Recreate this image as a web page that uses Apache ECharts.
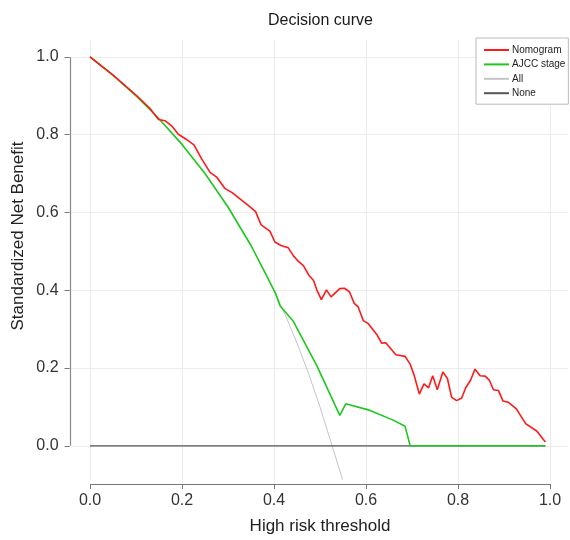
<!DOCTYPE html>
<html>
<head>
<meta charset="utf-8">
<script src="https://cdn.jsdelivr.net/npm/echarts@6/dist/echarts.min.js"></script>
<style>
  html, body { margin: 0; padding: 0; background: #fff; }
  #chart { width: 570px; height: 540px; }
</style>
</head>
<body>
<div id="chart"></div>
<script>
// tick positions on both axes
const tickValues = [0, 0.2, 0.4, 0.6, 0.8, 1.0];

// Nomogram (red)
const nomogramX = [0, 0.05, 0.10, 0.13, 0.149, 0.163, 0.178, 0.192, 0.208, 0.226, 0.243, 0.261, 0.276,
  0.293, 0.309, 0.326, 0.344, 0.36, 0.372, 0.391, 0.402, 0.415, 0.431, 0.442, 0.453, 0.464, 0.475,
  0.486, 0.493, 0.503, 0.514, 0.524, 0.543, 0.553, 0.564, 0.574, 0.583, 0.594, 0.605, 0.623, 0.634,
  0.643, 0.658, 0.665, 0.685, 0.696, 0.704, 0.716, 0.726, 0.736, 0.745, 0.755, 0.767, 0.777, 0.786,
  0.797, 0.808, 0.817, 0.827, 0.837, 0.848, 0.859, 0.868, 0.877, 0.888, 0.898, 0.909, 0.927, 0.947,
  0.971, 0.99];
const nomogramY = [1.0, 0.953, 0.902, 0.868, 0.839, 0.836, 0.822, 0.801, 0.789, 0.774, 0.737, 0.703, 0.69,
  0.662, 0.651, 0.635, 0.618, 0.602, 0.568, 0.552, 0.524, 0.515, 0.509, 0.489, 0.474, 0.463, 0.44,
  0.425, 0.401, 0.376, 0.401, 0.383, 0.404, 0.405, 0.396, 0.367, 0.357, 0.322, 0.314, 0.287, 0.264,
  0.265, 0.244, 0.234, 0.23, 0.21, 0.184, 0.133, 0.159, 0.149, 0.18, 0.144, 0.19, 0.173, 0.125,
  0.116, 0.123, 0.15, 0.168, 0.197, 0.18, 0.179, 0.169, 0.144, 0.142, 0.115, 0.112, 0.095, 0.057,
  0.038, 0.01];

// AJCC stage (green)
const ajccX = [0, 0.05, 0.10, 0.15, 0.20, 0.25, 0.30, 0.35, 0.385, 0.404, 0.413, 0.442, 0.493, 0.543,
  0.556, 0.609, 0.659, 0.685, 0.696, 0.99];
const ajccY = [1.0, 0.953, 0.90, 0.841, 0.775, 0.70, 0.614, 0.515, 0.435, 0.39, 0.36, 0.32, 0.206, 0.078,
  0.108, 0.091, 0.066, 0.05, 0.0, 0.0];

// All (treat all, grey)
const allX = [0, 0.05, 0.10, 0.15, 0.20, 0.25, 0.30, 0.35, 0.40, 0.425, 0.45, 0.475, 0.50, 0.525, 0.549];
const allY = [1.0, 0.953, 0.90, 0.841, 0.775, 0.70, 0.614, 0.515, 0.40, 0.335, 0.264, 0.186, 0.10, 0.005, -0.087];

// None (treat none)
const noneX = [0, 0.99];
const noneY = [0, 0];

const zip = (xs, ys) => xs.map((x, i) => [x, ys[i]]);
const font = '"Liberation Sans", Arial, Helvetica, sans-serif';
const xMin = -0.04, xMax = 1.04, yMin = -0.088, yMax = 1.045;

const chart = echarts.init(document.getElementById('chart'));

chart.setOption({
  animation: false,
  textStyle: { fontFamily: font },
  title: {
    text: 'Decision curve',
    left: 263,
    top: 8,
    textStyle: { fontSize: 16, fontWeight: 'normal', color: '#1a1a1a', fontFamily: font },
  },
  legend: {
    data: ['Nomogram', 'AJCC stage', 'All', 'None'],
    orient: 'vertical',
    left: 476,
    top: 38,
    padding: [6, 3, 5, 8],
    itemGap: 2.4,
    itemWidth: 25,
    itemHeight: 2,
    icon: 'rect',
    borderColor: '#bbb',
    borderWidth: 1,
    borderRadius: 0,
    backgroundColor: '#fff',
    textStyle: { fontSize: 10, lineHeight: 12, color: '#222', fontFamily: font, padding: [0, 0, 0, -2] },
  },
  grid: { left: 71.6, right: 1.6, top: 39.4, bottom: 56.5 },
  xAxis: {
    type: 'value',
    min: xMin,
    max: xMax,
    offset: 4,
    name: 'High risk threshold',
    nameLocation: 'middle',
    nameGap: 34,
    nameTextStyle: { fontSize: 17, color: '#222', fontFamily: font },
    axisLine: { show: false, onZero: false },
    axisTick: { show: true, customValues: tickValues, length: 5, lineStyle: { color: '#777' } },
    axisLabel: {
      customValues: tickValues,
      margin: 9,
      fontSize: 16,
      color: '#333',
      fontFamily: font,
      formatter: (v) => v.toFixed(1),
    },
    splitLine: { show: false },
  },
  yAxis: {
    type: 'value',
    min: yMin,
    max: yMax,
    offset: 2,
    axisLine: { show: false, onZero: false },
    axisTick: { show: true, customValues: tickValues, length: 5, lineStyle: { color: '#777' } },
    axisLabel: {
      customValues: tickValues,
      margin: 11,
      fontSize: 16,
      color: '#333',
      fontFamily: font,
      formatter: (v) => v.toFixed(1),
    },
    splitLine: { show: false },
  },
  series: [
    {
      // background grid lines at the tick values
      type: 'line',
      data: [],
      silent: true,
      z: 0,
      markLine: {
        z: 0,
        silent: true,
        symbol: 'none',
        label: { show: false },
        lineStyle: { color: '#ececec', width: 1, type: 'solid' },
        emphasis: { disabled: true },
        data: tickValues.map(v => ({ xAxis: v })).concat(tickValues.map(v => ({ yAxis: v }))),
      },
    },
    {
      name: 'All',
      type: 'line',
      data: zip(allX, allY),
      showSymbol: false,
      z: 2,
      lineStyle: { color: '#c4c4c4', width: 1 },
      itemStyle: { color: '#c4c4c4' },
    },
    {
      name: 'None',
      type: 'line',
      data: zip(noneX, noneY),
      showSymbol: false,
      z: 2,
      lineStyle: { color: '#555', width: 1.2 },
      itemStyle: { color: '#555' },
    },
    {
      name: 'AJCC stage',
      type: 'line',
      data: zip(ajccX, ajccY),
      showSymbol: false,
      z: 3,
      lineStyle: { color: '#1ec81e', width: 1.6 },
      itemStyle: { color: '#1ec81e' },
    },
    {
      name: 'Nomogram',
      type: 'line',
      data: zip(nomogramX, nomogramY),
      showSymbol: false,
      z: 4,
      lineStyle: { color: '#ff1a1a', width: 1.6 },
      itemStyle: { color: '#ff1a1a' },
    },
  ],
});

// capped axis lines, spanning only the 0..1 tick range
const p0 = chart.convertToPixel({ gridIndex: 0 }, [0, 0]);
const p1 = chart.convertToPixel({ gridIndex: 0 }, [1, 1]);
const corner = chart.convertToPixel({ gridIndex: 0 }, [xMin, yMin]);
const axisX = Math.round(corner[0] - 2) + 0.5;
const axisY = Math.round(corner[1] + 4) + 0.5;

chart.setOption({
  graphic: [
    {
      type: 'line',
      shape: { x1: axisX, y1: p1[1], x2: axisX, y2: p0[1] },
      style: { stroke: '#888', lineWidth: 1.2 },
    },
    {
      type: 'line',
      shape: { x1: p0[0], y1: axisY, x2: p1[0], y2: axisY },
      style: { stroke: '#777', lineWidth: 1.2 },
    },
    {
      type: 'text',
      x: 18,
      y: 236,
      rotation: Math.PI / 2,
      style: {
        text: 'Standardized Net Benefit',
        fontSize: 17,
        fontFamily: font,
        fill: '#222',
        align: 'center',
        verticalAlign: 'middle',
      },
    },
  ],
});
</script>
</body>
</html>
